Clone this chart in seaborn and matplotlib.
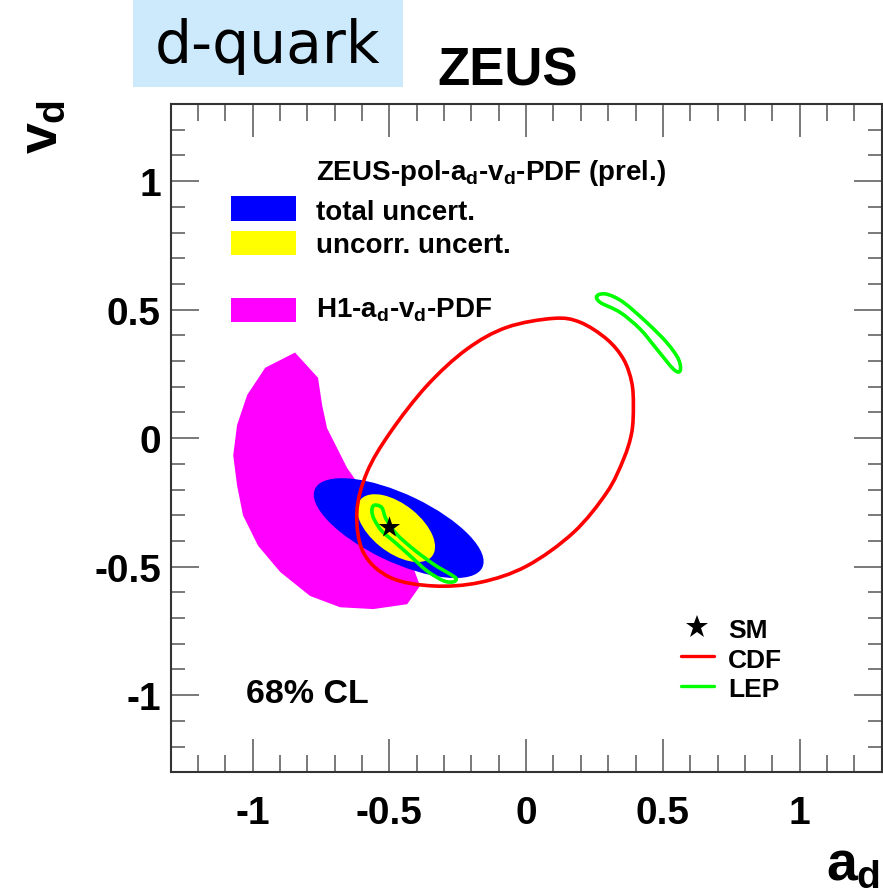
import numpy as np
import seaborn as sns
import matplotlib
matplotlib.use("Agg")
import matplotlib.pyplot as plt
from matplotlib.path import Path
from matplotlib.patches import PathPatch, Rectangle, Polygon, Ellipse
from matplotlib.lines import Line2D
from matplotlib.ticker import FixedLocator, MultipleLocator

# ---- 68% CL contours in the (a_d, v_d) plane ----
h1_a = [-0.845, -0.761, -0.746, -0.728, -0.691, -0.654, -0.589, -0.497, -0.424,
        -0.388, -0.435, -0.559, -0.680, -0.790, -0.899, -0.980, -1.035, -1.057,
        -1.071, -1.057, -1.020, -0.954]
h1_v = [0.333, 0.235, 0.129, 0.039, -0.039, -0.117, -0.215, -0.352, -0.470,
        -0.575, -0.646, -0.665, -0.658, -0.614, -0.521, -0.419, -0.301, -0.184,
        -0.067, 0.051, 0.168, 0.274]

# ZEUS ellipses: centre (a, v), full width, full height, tilt in degrees
tot_centre = (-0.466, -0.350)
tot_size = (0.684, 0.262)
tot_angle = -27.0

unc_centre = (-0.4755, -0.350)
unc_size = (0.342, 0.184)
unc_angle = -41.0

cdf_a = [-0.071, 0.100, 0.197, 0.295, 0.356, 0.386, 0.392, 0.386, 0.356, 0.295,
         0.173, 0.003, -0.168, -0.339, -0.497, -0.595, -0.619, -0.582, -0.497,
         -0.363, -0.217]
cdf_v = [0.431, 0.466, 0.451, 0.385, 0.307, 0.217, 0.126, 0.022, -0.082, -0.211,
         -0.367, -0.497, -0.561, -0.575, -0.542, -0.445, -0.289, -0.133, 0.022,
         0.204, 0.346]

lep1_a = [-0.556, -0.528, -0.512, -0.473, -0.412, -0.339, -0.278, -0.256, -0.266,
          -0.302, -0.363, -0.424, -0.479, -0.528, -0.556, -0.564]
lep1_v = [-0.261, -0.270, -0.315, -0.374, -0.432, -0.490, -0.529, -0.546, -0.559,
          -0.555, -0.516, -0.458, -0.406, -0.361, -0.315, -0.283]

lep2_a = [0.259, 0.295, 0.356, 0.441, 0.514, 0.557, 0.563, 0.539, 0.478, 0.417, 0.344, 0.271]
lep2_v = [0.554, 0.560, 0.528, 0.450, 0.372, 0.307, 0.262, 0.268, 0.346, 0.424, 0.489, 0.528]

sm_a = [-0.5]
sm_v = [-0.346]

x_ticks = [-1, -0.5, 0, 0.5, 1]
x_tick_labels = ["-1", "-0.5", "0", "0.5", "1"]
y_ticks = [-1, -0.5, 0, 0.5, 1]
y_tick_labels = ["-1", "-0.5", "0", "0.5", "1"]

BLUE, YELLOW, MAGENTA = "#0000ff", "#ffff00", "#ff00ff"
RED, GREEN = "#ff0000", "#00ff00"

sns.set_theme(style="ticks")
plt.rcParams.update({
    "font.family": ["Liberation Sans", "DejaVu Sans"],
    "font.weight": "bold",
    "text.color": "black",
    "axes.labelcolor": "black",
    "xtick.labelcolor": "black",
    "ytick.labelcolor": "black",
    "mathtext.fontset": "custom",
    "mathtext.rm": "Liberation Sans:bold",
    "mathtext.it": "Liberation Sans:bold",
    "mathtext.bf": "Liberation Sans:bold",
    "mathtext.sf": "Liberation Sans:bold",
})

W, H = 883, 895
fig = plt.figure(figsize=(W / 100, H / 100), dpi=100)
fig.patch.set_facecolor("white")


def fx(px):
    return px / W


def fy(py):
    return 1 - py / H


ax = fig.add_axes([fx(170.6), fy(773.3), (881.7 - 170.6) / W, (773.3 - 105) / H])
ax.set_facecolor("white")


def smooth_closed(xs, ys):
    """Closed smooth curve passing through every given vertex."""
    P = np.column_stack([xs, ys])
    n = len(P)
    verts = [P[0]]
    codes = [Path.MOVETO]
    for i in range(n):
        p0, p1, p2, p3 = P[i - 1], P[i], P[(i + 1) % n], P[(i + 2) % n]
        verts += [p1 + (p2 - p0) / 6, p2 - (p3 - p1) / 6, p2]
        codes += [Path.CURVE4] * 3
    return Path(verts, codes)


# filled regions
ax.add_patch(Polygon(np.column_stack([h1_a, h1_v]), closed=True,
                     facecolor=MAGENTA, edgecolor="none", zorder=2))
ax.add_patch(Ellipse(tot_centre, tot_size[0], tot_size[1], angle=tot_angle,
                     facecolor=BLUE, edgecolor="none", zorder=3))
ax.add_patch(Ellipse(unc_centre, unc_size[0], unc_size[1], angle=unc_angle,
                     facecolor=YELLOW, edgecolor="none", zorder=4))
# contour lines
ax.add_patch(PathPatch(smooth_closed(cdf_a, cdf_v), fill=False,
                       edgecolor=RED, lw=2.6, zorder=5))
for la, lv in [(lep1_a, lep1_v), (lep2_a, lep2_v)]:
    ax.add_patch(PathPatch(smooth_closed(la, lv), fill=False,
                           edgecolor=GREEN, lw=2.6, zorder=6))

sns.scatterplot(x=sm_a, y=sm_v, marker="*", s=260, color="black",
                edgecolor="black", linewidth=0, ax=ax, zorder=7, legend=False)

ax.set_xlim(-1.3, 1.3)
ax.set_ylim(-1.3, 1.3)
ax.set_xlabel("")
ax.set_ylabel("")
ax.xaxis.set_major_locator(FixedLocator(x_ticks))
ax.yaxis.set_major_locator(FixedLocator(y_ticks))
ax.set_xticklabels(x_tick_labels)
ax.set_yticklabels(y_tick_labels)
ax.xaxis.set_minor_locator(MultipleLocator(0.1))
ax.yaxis.set_minor_locator(MultipleLocator(0.1))
ax.tick_params(which="both", direction="in", top=True, right=True,
               color="#555555", labelcolor="black", width=1.1)
ax.tick_params(axis="x", which="major", length=23.8, pad=16, labelsize=28)
ax.tick_params(axis="x", which="minor", length=12.2)
ax.tick_params(axis="y", which="major", length=20.2, pad=7, labelsize=28)
ax.tick_params(axis="y", which="minor", length=10.1)
for sp in ax.spines.values():
    sp.set_visible(True)
    sp.set_color("#333333")
    sp.set_linewidth(1.5)
ax.grid(False)

# header
fig.patches.append(Rectangle((fx(133), fy(88)), 270 / W, 88 / H,
                             transform=fig.transFigure, facecolor="#cdeafd",
                             edgecolor="none", zorder=0))
fig.text(fx(155), fy(63), "d-quark", fontsize=42, fontweight="normal",
         family=["DejaVu Sans"], ha="left", va="baseline")
fig.text(fx(437), fy(86), "ZEUS", fontsize=38, fontweight="bold",
         ha="left", va="baseline")

# axis titles
fig.text(fx(43), fy(100), r"$v_d$", fontsize=40, rotation=90,
         ha="center", va="top")
fig.text(fx(880), fy(880), r"$a_d$", fontsize=40, ha="right", va="baseline")

# legend block (upper left)
fig.text(fx(316), fy(180), r"ZEUS-pol-a$_d$-v$_d$-PDF (prel.)", fontsize=20,
         ha="left", va="baseline")
for (y0, y1), col, lab, base in [
        ((197.3, 221.7), BLUE, "total uncert.", 220),
        ((231.7, 255.7), YELLOW, "uncorr. uncert.", 253.3),
        ((299.0, 323.3), MAGENTA, r"H1-a$_d$-v$_d$-PDF", 317.7)]:
    fig.patches.append(Rectangle((fx(231), fy(y1)), (295.7 - 231) / W, (y1 - y0) / H,
                                 transform=fig.transFigure, facecolor=col,
                                 edgecolor="none", zorder=3))
    fig.text(fx(316), fy(base), lab, fontsize=20, ha="left", va="baseline")

# legend block (lower right)
fig.add_artist(Line2D([fx(697.3)], [fy(628.3)], marker="*", markersize=17,
                      color="black", markeredgewidth=0, transform=fig.transFigure))
fig.add_artist(Line2D([fx(680.7), fx(714)], [fy(657.3)] * 2, color=RED, lw=2.4,
                      transform=fig.transFigure))
fig.add_artist(Line2D([fx(680.7), fx(714)], [fy(687.3)] * 2, color=GREEN, lw=2.4,
                      transform=fig.transFigure))
for lab, base in [("SM", 638), ("CDF", 668), ("LEP", 696.7)]:
    fig.text(fx(728), fy(base), lab, fontsize=19, ha="left", va="baseline")

fig.text(fx(246), fy(703), "68% CL", fontsize=24.5, ha="left", va="baseline")

fig.savefig("out.png", dpi=100, facecolor="white")
